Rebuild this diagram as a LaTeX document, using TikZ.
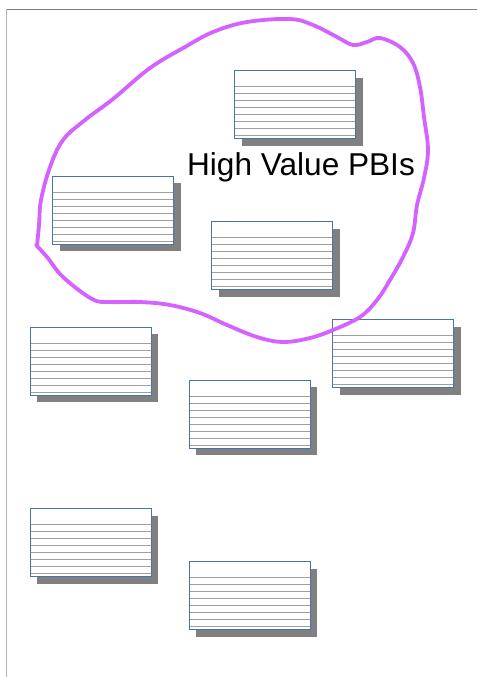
\documentclass[tikz,border=0pt]{standalone}
\usepackage{fontspec}
\newfontfamily\labelfont{Liberation Sans}
\usepackage{tikz}
\usetikzlibrary{shadows,positioning}
\definecolor{cardblue}{RGB}{74,114,176}
\definecolor{shadowgray}{RGB}{128,128,128}
\definecolor{lasso}{RGB}{212,98,255}
\tikzset{%
  pbicard/.style={draw=cardblue,line width=0.9pt,fill=white,anchor=north west,inner sep=0pt,
    minimum width=121pt,minimum height=68pt,
    drop shadow={shadow xshift=7.5pt,shadow yshift=-7.5pt,fill=shadowgray,opacity=1},
    path picture={\foreach \k in {0,...,7}
      \draw[gray!75,line width=1pt] ([yshift=-16.5pt-\k*7pt]path picture bounding box.north west) -- ([yshift=-16.5pt-\k*7pt]path picture bounding box.north east);}},
}
\begin{document}
\begin{tikzpicture}[x=1pt,y=-1pt]
  \useasboundingbox (0,0) rectangle (477,677);
  \fill[white] (0,0) rectangle (477,677);
  % page edges
  \coordinate (tl) at (6.5,9.5);
  \coordinate (tr) at (477,9.5);
  \coordinate (bl) at (6.5,677);
  \draw[gray!100,line width=1.2pt] (tl) -- (tr);
  \draw[gray!60,line width=1.4pt] (tl) -- (bl);
  % cards
  \node[pbicard] (card1) at (234,70) {};
  \node[pbicard] (card2) at (52,175.5) {};
  \node[pbicard] (card3) at (211,221) {};
  \node[pbicard] (card4) at (29.5,326.5) {};
  \node[pbicard] (card5) at (332,319) {};
  \node[pbicard] (card6) at (188.5,379.5) {};
  \node[pbicard] (card7) at (29.5,508) {};
  \node[pbicard] (card8) at (188.5,561) {};
  % the lasso
  \draw[lasso,line width=3.8pt,line cap=round,line join=round] plot[smooth,tension=0.6] coordinates {(37,246) (39,225) (41,200) (50,167) (63,140) (85,120) (113,99) (150,68) (185,47) (213,32) (247,22) (290,19) (313,25) (337,37) (353,45) (367,42) (380,38) (400,47) (413,63) (420,87) (424,117) (428,150) (424,178) (417,205) (413,233) (403,257) (390,280) (377,300) (360,317) (333,330) (310,338) (283,342) (257,337) (227,325) (200,313) (170,305) (140,302) (110,302) (92,299) (63,277) (47,257) (36,245)};
  \node[anchor=base,inner sep=0pt,font=\labelfont\fontsize{31.6}{36}\selectfont] (hv) at (301,175) {High Value PBIs};
\end{tikzpicture}
\end{document}
